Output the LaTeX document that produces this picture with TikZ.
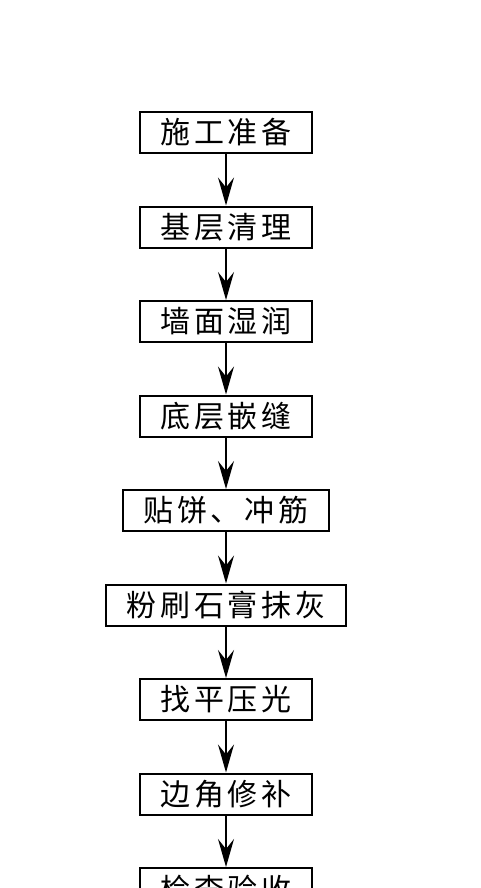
\documentclass[tikz,border=0pt]{standalone}
\usepackage{fontspec}
\newfontfamily\cjk[LetterSpace=13]{Noto Sans CJK SC}
\usetikzlibrary{arrows.meta}
\begin{document}
\begin{tikzpicture}[
	x = 1pt, y = 1pt,
	> = {Stealth[length=28pt,width=16pt,inset=10pt]}, % arrow head style
	node distance = 94.5pt, % distance between nodes
	line width = 2pt, % line style
	font=\cjk\fontsize{30pt}{33pt}\selectfont,
	stepbox/.style = {rectangle,draw,minimum height=41pt,inner xsep=20pt,inner ysep=0pt}
	]
	
	\useasboundingbox (0,0) rectangle (480,-888);
	
	\node[stepbox] (qPrep) at (226,-132.5) {施工准备};
	\node[stepbox] (qBase) [below of=qPrep] {基层清理};
	\node[stepbox] (qWet) [below of=qBase] {墙面湿润};
	\node[stepbox] (qSeam) [below of=qWet] {底层嵌缝};
	\node[stepbox] (qMark) [below of=qSeam] {贴饼、冲筋};
	\node[stepbox] (qPlaster) [below of=qMark] {粉刷石膏抹灰};
	\node[stepbox] (qLevel) [below of=qPlaster] {找平压光};
	\node[stepbox] (qEdge) [below of=qLevel] {边角修补};
	\node[stepbox] (qCheck) [below of=qEdge] {检查验收};
	
	\path[->]
	(qPrep) edge (qBase)
	(qBase) edge (qWet)
	(qWet) edge (qSeam)
	(qSeam) edge (qMark)
	(qMark) edge (qPlaster)
	(qPlaster) edge (qLevel)
	(qLevel) edge (qEdge)
	(qEdge) edge (qCheck);
\end{tikzpicture}
\end{document}
